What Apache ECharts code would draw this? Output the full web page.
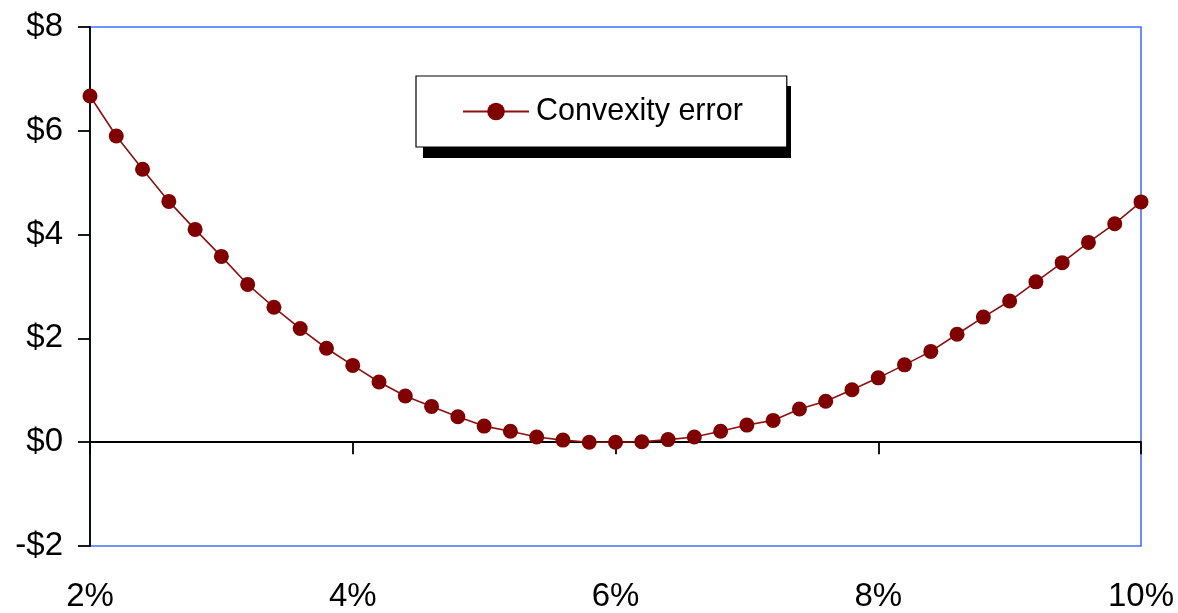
<!DOCTYPE html>
<html>
<head>
<meta charset="utf-8">
<script src="https://cdn.jsdelivr.net/npm/echarts@6/dist/echarts.min.js"></script>
<style>
html,body{margin:0;padding:0;background:#fff;}
#chart{width:1178px;height:613px;}
</style>
</head>
<body>
<div id="chart"></div>
<script>
// Yield (%) for each point
var rates = [2.0, 2.2, 2.4, 2.6, 2.8, 3.0, 3.2, 3.4, 3.6, 3.8,
             4.0, 4.2, 4.4, 4.6, 4.8, 5.0, 5.2, 5.4, 5.6, 5.8,
             6.0, 6.2, 6.4, 6.6, 6.8, 7.0, 7.2, 7.4, 7.6, 7.8,
             8.0, 8.2, 8.4, 8.6, 8.8, 9.0, 9.2, 9.4, 9.6, 9.8, 10.0];
// Convexity error ($)
var convexityError = [6.67, 5.90, 5.26, 4.64, 4.10, 3.58, 3.04, 2.60, 2.19, 1.81,
                      1.48, 1.16, 0.89, 0.69, 0.49, 0.31, 0.21, 0.10, 0.04, 0.00,
                      0.00, 0.01, 0.05, 0.10, 0.21, 0.33, 0.42, 0.64, 0.79, 1.01,
                      1.24, 1.49, 1.75, 2.08, 2.41, 2.72, 3.09, 3.46, 3.85, 4.21, 4.63];
var seriesName = 'Convexity error';
var xTicks = [2, 4, 6, 8, 10];
var yTicks = [-2, 0, 2, 4, 6, 8];

var font = '"Liberation Sans", Arial, sans-serif';
var points = rates.map(function (r, i) { return [r, convexityError[i]]; });

var chart = echarts.init(document.getElementById('chart'), null, {renderer: 'canvas'});
chart.setOption({
  animation: false,
  backgroundColor: '#ffffff',
  textStyle: {fontFamily: font},
  grid: {
    left: 90, right: 37, top: 27, bottom: 66,
    show: true, borderColor: '#4570ff', borderWidth: 1.6,
    backgroundColor: 'transparent'
  },
  graphic: [{
    type: 'rect',
    z: 1,
    shape: {x: 423, y: 86, width: 368, height: 72},
    style: {fill: '#000000'}
  }],
  legend: {
    data: [seriesName],
    left: 416, top: 76,
    z: 10,
    padding: [20, 44, 20, 46],
    backgroundColor: '#ffffff',
    borderColor: '#000000',
    borderWidth: 1.2,
    itemWidth: 66,
    itemHeight: 22,
    itemGap: 0,
    textStyle: {fontFamily: font, fontSize: 30.5, color: '#000', lineHeight: 31, padding: [0, 0, 0, 2]}
  },
  xAxis: [{
    type: 'value',
    min: xTicks[0], max: xTicks[xTicks.length - 1], interval: 2,
    axisLine: {show: true, onZero: true, lineStyle: {color: '#000', width: 1.8}},
    axisTick: {show: true, inside: false, length: 12, lineStyle: {color: '#000', width: 1.8}},
    axisLabel: {show: false},
    splitLine: {show: false}
  }, {
    type: 'value',
    position: 'bottom',
    min: xTicks[0], max: xTicks[xTicks.length - 1], interval: 2,
    axisLine: {show: false, onZero: false},
    axisTick: {show: false},
    axisLabel: {
      show: true, margin: 34, fontSize: 33, color: '#000', fontFamily: font,
      formatter: function (v) { return v + '%'; }
    },
    splitLine: {show: false}
  }],
  yAxis: {
    type: 'value',
    min: yTicks[0], max: yTicks[yTicks.length - 1], interval: 2,
    axisLine: {show: true, onZero: false, lineStyle: {color: '#000', width: 1.8}},
    axisTick: {show: true, inside: false, length: 12, lineStyle: {color: '#000', width: 1.8}},
    axisLabel: {
      show: true, margin: 27, fontSize: 33, color: '#000', fontFamily: font,
      formatter: function (v) { return v < 0 ? '-$' + Math.abs(v) : '$' + v; }
    },
    splitLine: {show: false}
  },
  series: [{
    name: seriesName,
    type: 'line',
    xAxisIndex: 0,
    data: points,
    symbol: 'circle',
    symbolSize: 15,
    showSymbol: true,
    clip: false,
    itemStyle: {color: '#800000'},
    lineStyle: {color: '#8b1010', width: 1.6}
  }]
});
</script>
</body>
</html>
